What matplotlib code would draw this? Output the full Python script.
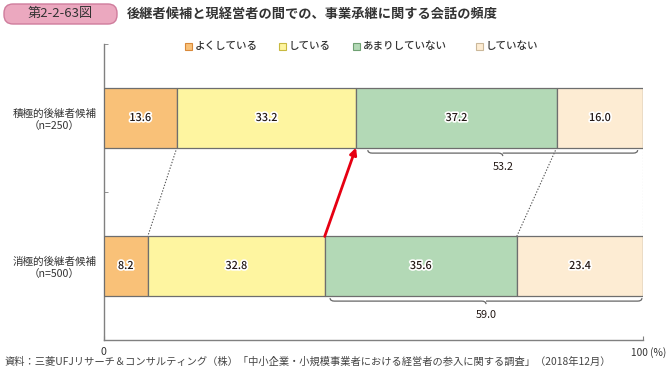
import matplotlib
matplotlib.use("Agg")
import matplotlib.pyplot as plt
import numpy as np
from matplotlib.patches import FancyBboxPatch, Rectangle
from matplotlib.path import Path
from matplotlib.patches import PathPatch
import matplotlib.patheffects as pe

plt.rcParams['font.family'] = ['Noto Sans CJK JP', 'DejaVu Sans']

categories = ['積極的後継者候補\n（n=250）', '消極的後継者候補\n（n=500）']
series = ['よくしている', 'している', 'あまりしていない', 'していない']
active = [13.6, 33.2, 37.2, 16.0]
passive = [8.2, 32.8, 35.6, 23.4]
bracket_totals = [53.2, 59.0]
colors = ['#F9C178', '#FEF5A0', '#B3D9B6', '#FDECD3']
leg_edges = ['#D9893A', '#C8B940', '#6FA173', '#CBB89A']
edge = '#6E6E6E'
txt = '#231815'

title_tag = '第2-2-63図'
title = '後継者候補と現経営者の間での、事業承継に関する会話の頻度'
source = '資料：三菱UFJリサーチ＆コンサルティング（株）「中小企業・小規模事業者における経営者の参入に関する調査」（2018年12月）'

W, H = 669, 371
fig = plt.figure(figsize=(W/100, H/100), dpi=100)

# overlay in pixel coordinates for title, legend and source
ov = fig.add_axes([0, 0, 1, 1])
ov.set_xlim(0, W)
ov.set_ylim(H, 0)
ov.axis('off')

ax = fig.add_axes([103.5/W, 1-340/H, (643-103.5)/W, 296/H])
ax.patch.set_alpha(0)

data = np.array([active, passive])
ypos = np.arange(len(categories))
bh = 0.4
left = np.zeros(len(categories))
for j, s in enumerate(series):
    ax.barh(ypos, data[:, j], left=left, height=bh, color=colors[j],
            edgecolor=edge, linewidth=0.9, zorder=3)
    for i in range(len(categories)):
        ax.text(left[i] + data[i, j]/2, ypos[i], f'{data[i, j]:.1f}',
                ha='center', va='center', fontsize=7.8, color=txt, zorder=5,
                fontweight='medium',
                path_effects=[pe.withStroke(linewidth=2.4, foreground='white')])
    left += data[:, j]

ax.set_xlim(0, 100)
ax.set_ylim(1.5, -0.5)
for sp in ['top', 'right']:
    ax.spines[sp].set_visible(False)
for sp in ['left', 'bottom']:
    ax.spines[sp].set_color('#808080')
    ax.spines[sp].set_linewidth(1.0)

ax.set_yticks(ypos)
ax.set_yticklabels(categories, fontsize=7.6, color='#333333', multialignment='center')
ax.tick_params(axis='y', which='major', length=0, pad=5)
ax.set_yticks([-0.5, 0.5, 1.5], minor=True)
ax.tick_params(axis='y', which='minor', direction='in', length=3, color='#808080')
ax.set_xticks([0, 100])
ax.set_xticklabels(['0', ''], fontsize=7.6, color='#333333')
ax.tick_params(axis='x', direction='in', length=3, color='#808080', pad=5)
ov.text(631, 353, '100 (%)', ha='left', va='center', fontsize=7.3, color='#333333')

# dotted connectors
cum_a = np.cumsum(active)
cum_p = np.cumsum(passive)
y_top_bottom = 0 + bh/2
y_bot_top = 1 - bh/2
for k in [0, 2]:
    ax.plot([cum_a[k], cum_p[k]], [y_top_bottom, y_bot_top], color='#555555',
            lw=0.8, ls=(0, (1.2, 1.5)), zorder=2)
ax.plot([100, 100], [y_top_bottom, y_bot_top], color='#999999', lw=0.8,
        ls=(0, (1.2, 1.5)), zorder=2)

# red arrow
ax.annotate('', xy=(cum_a[1], y_top_bottom), xytext=(cum_p[1], y_bot_top),
            arrowprops=dict(arrowstyle='-|>', color='#E60012', lw=2.0,
                            mutation_scale=10, shrinkA=0, shrinkB=0), zorder=6)

# brackets
px = 1/148.0
def brace(x0, x1, yb, total):
    ym = yb + 5.5*px
    yh = ym - 3*px
    xm = (x0 + x1)/2
    r = 0.8
    verts = [(x0, yh), (x0, ym), (x0 + r, ym), (xm - r, ym), (xm, ym), (xm, ym + 3*px),
             (xm, ym), (xm + r, ym), (x1 - r, ym), (x1, ym), (x1, yh)]
    codes = [Path.MOVETO, Path.CURVE3, Path.CURVE3, Path.LINETO, Path.CURVE3, Path.CURVE3,
             Path.MOVETO, Path.CURVE3, Path.LINETO, Path.CURVE3, Path.CURVE3]
    ax.add_patch(PathPatch(Path(verts, codes), fill=False, edgecolor='#666666', lw=0.9,
                           clip_on=False, zorder=4))
    ax.text(xm, ym + 14*px, f'{total:.1f}', ha='center', va='center', fontsize=7.8,
            color=txt)

brace(cum_a[1] + 2.2, 99.0, y_top_bottom, bracket_totals[0])
brace(cum_p[1] + 1.0, 99.8, 1 + bh/2, bracket_totals[1])

# legend (manual)
leg_x = [185, 279, 353, 476]
for lx, s, c, ec in zip(leg_x, series, colors, leg_edges):
    ov.add_patch(Rectangle((lx, 43), 7, 7, facecolor=c, edgecolor=ec, linewidth=0.8))
    ov.text(lx + 10, 46.5, s, ha='left', va='center', fontsize=7.6, color='#333333',
            fontweight='medium')

# title
ov.add_patch(FancyBboxPatch((4, 4), 113, 20, boxstyle='round,pad=0,rounding_size=9',
                            facecolor='#EBA8BF', edgecolor='#CF7C9C', linewidth=1.0))
ov.text(60, 14, title_tag, ha='center', va='center', fontsize=9.5, color='#333333')
ov.text(127, 14, title, ha='left', va='center', fontsize=9.5,
        color='#333333', fontweight='bold')

ov.text(5, 362, source, ha='left', va='center', fontsize=7.4, color='#444444')

fig.savefig('out.png', dpi=100)
